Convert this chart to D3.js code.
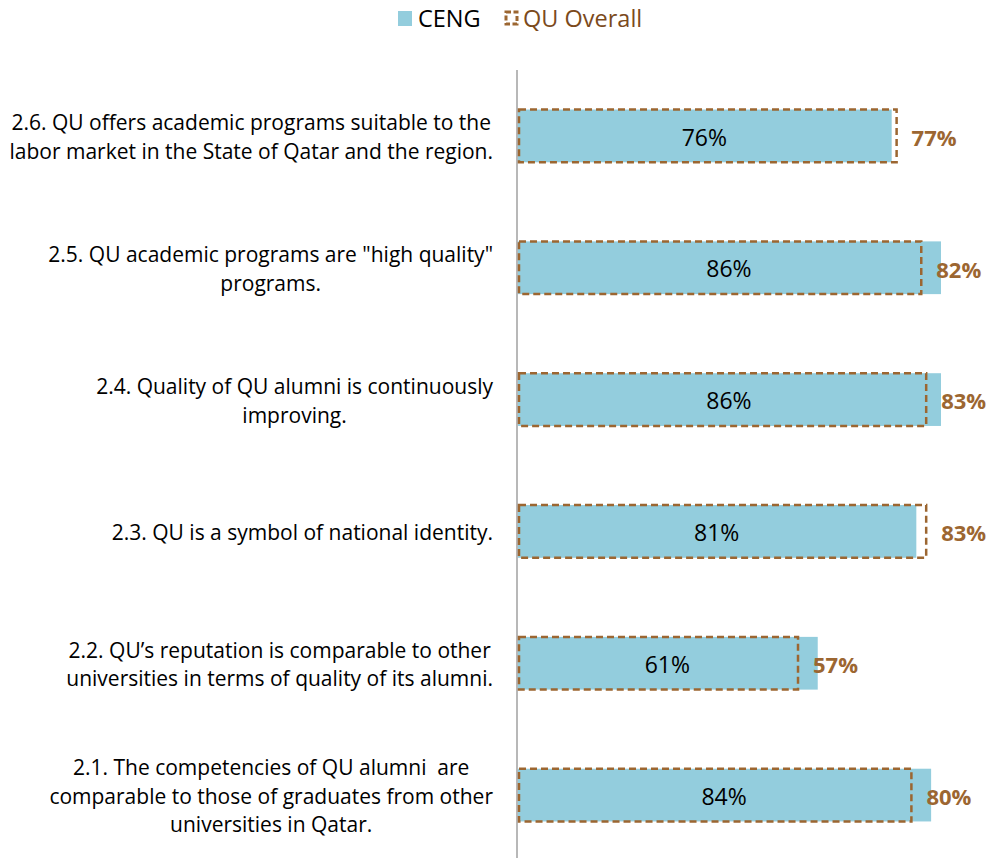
<!DOCTYPE html>
<html>
<head>
<meta charset="utf-8">
<script src="https://cdn.jsdelivr.net/npm/d3@7"></script>
<style>
  body { margin: 0; background: #fff; }
  svg { display: block; font-family: "Open Sans", "Noto Sans", sans-serif; }
  text { white-space: pre; }
</style>
</head>
<body>
<svg id="chart" width="990" height="858"></svg>
<script>
// categories, top to bottom, already split into lines
var categories = ["2.6", "2.5", "2.4", "2.3", "2.2", "2.1"];
var catLines = [
	["2.6. QU offers academic programs suitable to the", "labor market in the State of Qatar and the region."],
	["2.5. QU academic programs are \"high quality\"", "programs."],
	["2.4. Quality of QU alumni is continuously", "improving."],
	["2.3. QU is a symbol of national identity."],
	["2.2. QU\u2019s reputation is comparable to other", "universities in terms of quality of its alumni."],
	["2.1. The competencies of QU alumni  are", "comparable to those of graduates from other", "universities in Qatar."]
];
var ceng = [76, 86, 86, 81, 61, 84];
var overall = [77, 82, 83, 83, 57, 80];
var seriesNames = ["CENG", "QU Overall"];

var cengColor = "#93cddd",
	dashColor = "#9c6631",
	legendBrown = "#7b4a1c";

var svg = d3.select("#chart");

var x = d3.scaleLinear()
	.domain([0, 100])
	.range([517, 1010]);

var y = d3.scaleBand()
	.domain(categories)
	.range([70, 861])
	.paddingInner(0.6)
	.paddingOuter(0.3);

//vertical axis line
svg.append("line")
	.attr("x1", x(0)).attr("x2", x(0))
	.attr("y1", 70).attr("y2", 858)
	.attr("stroke", "#a0a0a0")
	.attr("stroke-width", 1.5);

//CENG bars
svg.selectAll(".ceng")
	.data(ceng)
	.enter().append("rect")
	.attr("class", "ceng")
	.attr("x", x(0) + 1)
	.attr("y", function(d, i) { return y(categories[i]); })
	.attr("width", function(d) { return x(d) - x(0) - 1; })
	.attr("height", y.bandwidth())
	.attr("fill", cengColor);

//QU overall dashed outlines
svg.selectAll(".overall")
	.data(overall)
	.enter().append("rect")
	.attr("class", "overall")
	.attr("x", x(0) + 2)
	.attr("y", function(d, i) { return y(categories[i]); })
	.attr("width", function(d) { return x(d) - x(0) - 2; })
	.attr("height", y.bandwidth())
	.attr("fill", "none")
	.attr("stroke", dashColor)
	.attr("stroke-width", 2.5)
	.attr("stroke-dasharray", "7,4");

//CENG value labels
svg.selectAll(".cengLabel")
	.data(ceng)
	.enter().append("text")
	.attr("x", function(d) { return (x(0) + x(d)) / 2; })
	.attr("y", function(d, i) { return y(categories[i]) + y.bandwidth() / 2; })
	.attr("dy", "0.42em")
	.attr("text-anchor", "middle")
	.attr("font-size", "23px")
	.attr("fill", "#000")
	.text(function(d) { return d + "%"; });

//overall value labels
svg.selectAll(".overallLabel")
	.data(overall)
	.enter().append("text")
	.attr("x", function(d) { return x(d) + 15; })
	.attr("y", function(d, i) { return y(categories[i]) + y.bandwidth() / 2; })
	.attr("dy", "0.45em")
	.attr("font-size", "22px")
	.attr("font-weight", "bold")
	.attr("fill", dashColor)
	.text(function(d) { return d + "%"; });

//category labels, centred as a block, right edge near the axis
var lineH = 28.5;
catLines.forEach(function(lines, i) {
	var cy = y(categories[i]) + y.bandwidth() / 2;
	var g = svg.append("text")
		.attr("font-size", "21px")
		.attr("fill", "#000")
		.attr("text-anchor", "middle");
	var spans = g.selectAll("tspan")
		.data(lines)
		.enter().append("tspan")
		.attr("y", function(d, j) { return cy + (j - (lines.length - 1) / 2) * lineH; })
		.attr("dy", "0.42em")
		.text(function(d) { return d; });
	var w = d3.max(spans.nodes(), function(n) { return n.getComputedTextLength(); });
	spans.attr("x", 493 - w / 2);
});

//legend
var legend = svg.append("g");
legend.append("rect")
	.attr("x", 398).attr("y", 11)
	.attr("width", 14).attr("height", 15)
	.attr("fill", cengColor);
legend.append("text")
	.attr("x", 418).attr("y", 18)
	.attr("dy", "0.38em")
	.attr("font-size", "23.5px")
	.text(seriesNames[0]);
legend.append("rect")
	.attr("x", 506).attr("y", 12)
	.attr("width", 11).attr("height", 12)
	.attr("fill", "none")
	.attr("stroke", dashColor)
	.attr("stroke-width", 3)
	.attr("stroke-dasharray", "5,2.5");
legend.append("text")
	.attr("x", 523).attr("y", 18)
	.attr("dy", "0.38em")
	.attr("font-size", "23.5px")
	.attr("fill", legendBrown)
	.text(seriesNames[1]);
</script>
</body>
</html>
